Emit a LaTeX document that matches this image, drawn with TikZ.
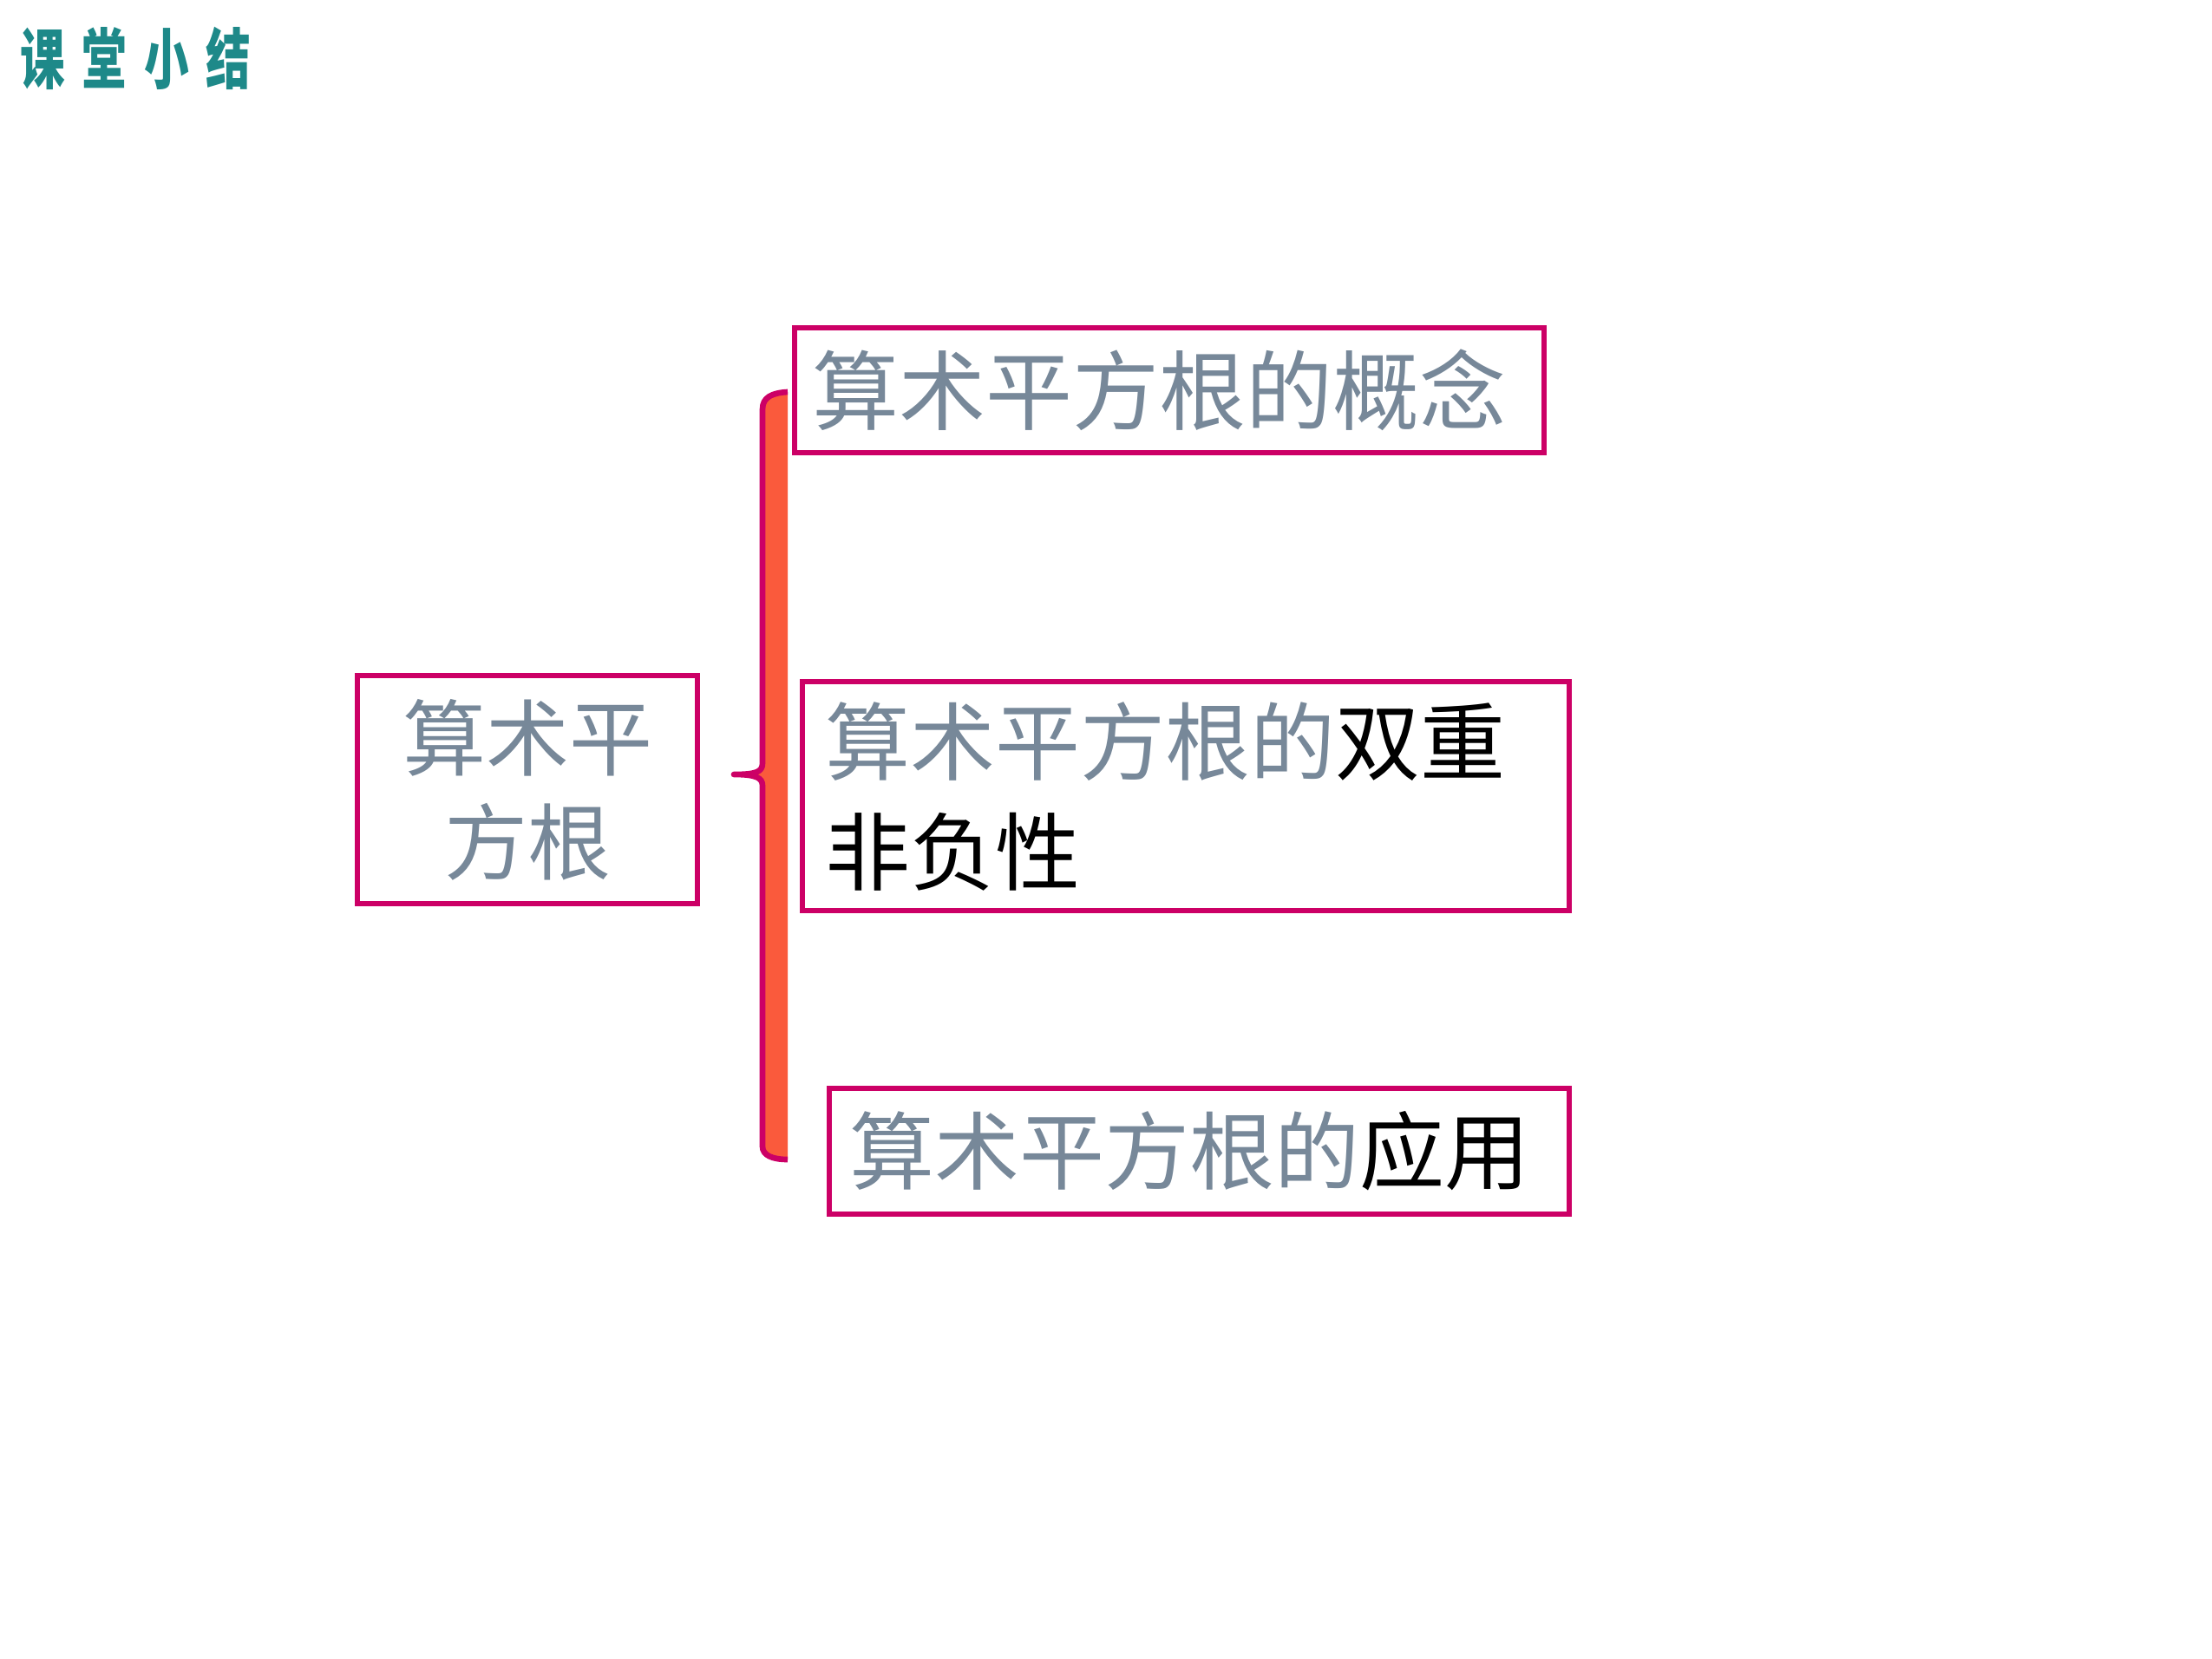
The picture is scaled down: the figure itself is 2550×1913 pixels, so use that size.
\documentclass[tikz,border=0pt]{standalone}
\usepackage{fontspec}
\newfontfamily\cjk{Noto Sans CJK SC}
\newfontfamily\titlefont[FakeStretch=0.68,LetterSpace=26]{Noto Sans CJK SC}

\tikzset{every picture/.style={line width=0.75pt}}
\tikzset{
  box/.style={draw={rgb, 255:red, 204; green, 0; blue, 102}, line width=2pt, inner ysep=0pt,
    text={rgb, 255:red, 119; green, 136; blue, 153}},
  boxtext/.style={font=\cjk\fontsize{29.4}{38.1}\selectfont, align=left},
  bracefill/.style={draw={rgb, 255:red, 204; green, 0; blue, 102}, line width=2pt, line join=round,
    fill={rgb, 255:red, 250; green, 90; blue, 60}}
}

\begin{document}
\begin{tikzpicture}[x=0.3pt,y=0.3pt,yscale=-1,xscale=1]
\useasboundingbox (0,0) rectangle (2550,1913);

% Title
\node [anchor=base west, inner sep=0pt, text={rgb, 255:red, 30; green, 137; blue, 137}, font=\titlefont\bfseries\fontsize{22.8}{24}\selectfont] (title) at (22,97) {课堂小结};

% Left box
\node [box, minimum width=117.6pt, minimum height=78.9pt, align=center, font=\cjk\fontsize{28.8}{36}\selectfont] (root) at (608,910.5) {算术平\\方根};

%Brace
\draw [bracefill] (908,452) .. controls (890,453) and (879,458) .. (879,472) -- (879,880) .. controls (879,890) and (872,893) .. (846,893) .. controls (872,893) and (879,897) .. (879,906) -- (879,1322) .. controls (879,1332) and (890,1337) .. (908,1337) ;

% Right boxes
\node [box, boxtext, minimum width=259.2pt, minimum height=43.2pt, inner xsep=6pt, text width=247.2pt, font=\cjk\fontsize{30}{38}\selectfont] (concept) at (1348,450) {算术平方根的概念};
\node [box, boxtext, minimum width=265.2pt, minimum height=79.2pt, inner xsep=7.8pt, text width=249.6pt] (property) at (1367,918) {算术平方根的\textcolor{black}{双重}\\\textcolor{black}{非负性}};
\node [box, boxtext, minimum width=255.9pt, minimum height=43.5pt, inner xsep=6.9pt, text width=242.1pt] (application) at (1382.5,1327.5) {算术平方根的\textcolor{black}{应用}};

\end{tikzpicture}
\end{document}
